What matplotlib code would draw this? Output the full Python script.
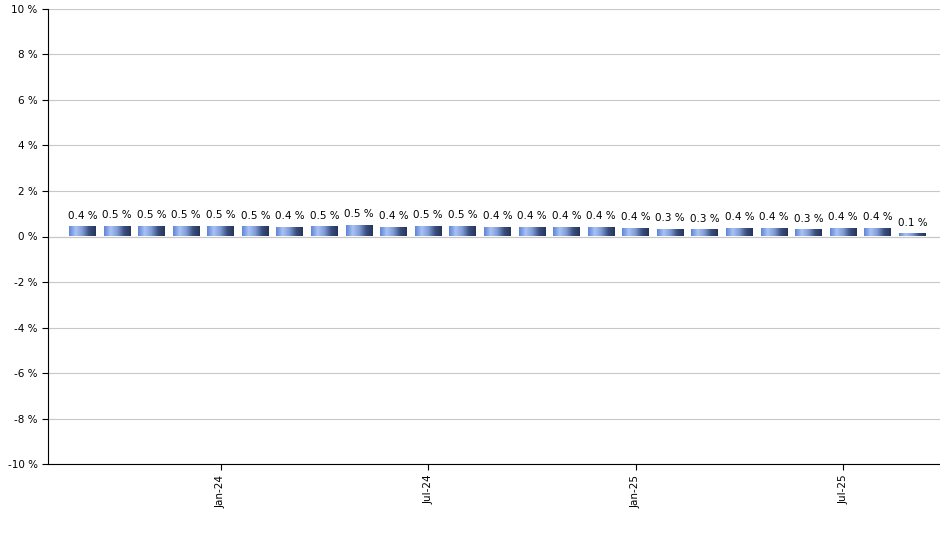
import numpy as np
import matplotlib.pyplot as plt
from matplotlib.colors import LinearSegmentedColormap

months = ["Sep-23", "Oct-23", "Nov-23", "Dec-23", "Jan-24", "Feb-24", "Mar-24", "Apr-24",
          "May-24", "Jun-24", "Jul-24", "Aug-24", "Sep-24", "Oct-24", "Nov-24", "Dec-24",
          "Jan-25", "Feb-25", "Mar-25", "Apr-25", "May-25", "Jun-25", "Jul-25", "Aug-25", "Sep-25"]
returns = [0.44, 0.47, 0.48, 0.46, 0.46, 0.45, 0.42, 0.45, 0.52, 0.42, 0.46, 0.47, 0.42, 0.42,
           0.42, 0.41, 0.38, 0.33, 0.32, 0.37, 0.37, 0.32, 0.37, 0.38, 0.14]
tick_months = ["Jan-24", "Jul-24", "Jan-25", "Jul-25"]

cmap = LinearSegmentedColormap.from_list(
    "bar", ["#5f84d4", "#a9c2f5", "#7f9bd6", "#3a4f7e", "#26355a"], N=256)

fig = plt.figure(figsize=(9.4, 5.5), dpi=100)
ax = fig.add_axes([0.051, 0.156, 0.949, 0.828])
x = np.arange(len(returns))
bars = ax.bar(x, returns, width=0.78, color="none", zorder=2)
grad = np.linspace(0, 1, 256).reshape(1, -1)
for b, v in zip(bars, returns):
    x0, y0 = b.get_x(), b.get_y()
    im = ax.imshow(grad, cmap=cmap, aspect="auto", zorder=3,
                   extent=[x0, x0 + b.get_width(), y0, y0 + b.get_height()])
    im.set_clip_path(b)
    ax.text(b.get_x() + b.get_width() / 2, v + 0.25, f"{v:.1f} %",
            ha="center", va="bottom", fontsize=7.5, zorder=4)

ax.set_xlim(-1, len(returns) - 0.2)
ax.set_ylim(-10, 10)
ax.set_yticks(np.arange(-10, 11, 2))
ax.set_yticklabels([f"{t} %" for t in range(-10, 11, 2)], fontsize=7.5)
ax.set_xticks([months.index(m) for m in tick_months])
ax.set_xticklabels(tick_months, rotation=90, fontsize=7.5)
ax.grid(axis="y", color="#c8c8c8", linewidth=0.8, zorder=0)
ax.axhline(0, color="#b0b0b0", linewidth=0.8, zorder=1)
for s in ["top", "right"]:
    ax.spines[s].set_visible(False)
ax.tick_params(length=4, width=0.8)

fig.savefig("out.png", dpi=100)
